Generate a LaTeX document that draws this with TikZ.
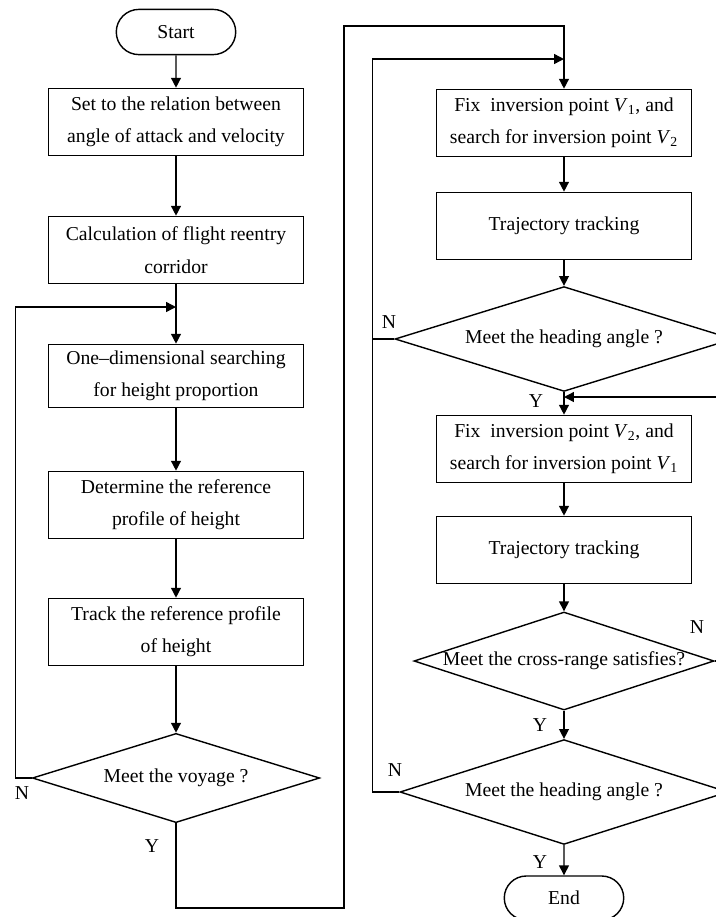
\documentclass[tikz,border=0pt]{standalone}
\usepackage{fontspec}
\setmainfont{Liberation Serif}
\usetikzlibrary{shapes.geometric,shapes.misc,arrows.meta}
\tikzstyle{arrow} = [line width=1pt,-{Triangle[length=7pt,width=7pt]}]
\tikzstyle{line} = [line width=1pt]
\tikzstyle{box} = [draw,line width=1pt,rectangle,minimum width=6.38cm,minimum height=1.68cm,align=center,inner sep=2pt]
\tikzstyle{term} = [draw,line width=1pt,rounded rectangle,minimum width=3.22cm,minimum height=1.13cm]
\tikzstyle{test} = [draw,line width=1pt,diamond,inner sep=0pt]

\begin{document}
\begin{tikzpicture}[x=0.025cm,y=-0.025cm,font=\fontsize{14pt}{23pt}\selectfont]
  \useasboundingbox (0,0) rectangle (716,917);
  \clip (0,0) rectangle (716,917);
  \node[term] (start) at (176,32) {Start};
  \node[box] (set) at (176,122) {Set to the relation between\\angle of attack and velocity};
  \node[box] (calc) at (176,250) {Calculation of flight reentry\\corridor};
  \node[box,minimum height=1.58cm] (search) at (176,376) {One--dimensional searching\\for height proportion};
  \node[box] (prof) at (176,505) {Determine the reference\\profile of height};
  \node[box] (track) at (176,632) {Track the reference profile\\of height};
  \node[test,minimum width=7.18cm,minimum height=2.23cm] (voy) at (176,778) {\makebox[0pt]{Meet the voyage ?}};

  \node[box] (fix1) at (564,123) {Fix\ \ inversion point \textit{V}\textsubscript{1}, and\\search for inversion point \textit{V}\textsubscript{2}};
  \node[box] (tt1) at (564,226) {Trajectory tracking};
  \node[test,minimum width=8.45cm,minimum height=2.62cm] (head1) at (564,339) {\makebox[0pt]{Meet the heading angle ?}};
  \node[box] (fix2) at (564,449) {Fix\ \ inversion point \textit{V}\textsubscript{2}, and\\search for inversion point \textit{V}\textsubscript{1}};
  \node[box] (tt2) at (564,550) {Trajectory tracking};
  \node[test,minimum width=7.5cm,minimum height=2.45cm] (cross) at (564,661) {\makebox[0pt]{Meet the cross-range satisfies?}};
  \node[test,minimum width=8.2cm,minimum height=2.62cm] (head2) at (564,792) {\makebox[0pt]{Meet the heading angle ?}};
  \node[term,minimum height=1.1cm] (end) at (564,898) {End};

  \coordinate (j1) at (176,307);
  \coordinate (b1) at (344,908);
  \coordinate (t1) at (344,26);
  \coordinate (j2) at (564,59);
  \coordinate (j3) at (564,397);

  \draw [arrow] (start) -- (set);
  \draw [arrow] (set) -- (calc);
  \draw [arrow] (calc) -- (search);
  \draw [arrow] (search) -- (prof);
  \draw [arrow] (prof) -- (track);
  \draw [arrow] (track) -- (voy);
  \draw [arrow] (voy.west) -- ++(-16,0) |- (j1);
  \draw [arrow] (voy.south) |- (b1) -- (t1) -| (fix1.north);

  \draw [arrow] (fix1) -- (tt1);
  \draw [arrow] (tt1) -- (head1);
  \draw [arrow] (head1) -- (fix2);
  \draw [arrow] (fix2) -- (tt2);
  \draw [arrow] (tt2) -- (cross);
  \draw [arrow] (cross) -- (head2);
  \draw [arrow] (head2) -- (end);
  \draw [arrow] (head2.west) -- ++(-27,0) |- (j2);
  \draw [line] (head1.west) -- ++(-22,0);
  \draw [arrow] (cross.east) -- ++(30,0) |- (j3);

  \node (n1) at (22,793) {N};
  \node (y1) at (152,846) {Y};
  \node (n2) at (389,322) {N};
  \node (y2) at (536,401) {Y};
  \node (n3) at (697,627) {N};
  \node (y3) at (540,725) {Y};
  \node (n4) at (395,770) {N};
  \node (y4) at (540,862) {Y};
\end{tikzpicture}
\end{document}
